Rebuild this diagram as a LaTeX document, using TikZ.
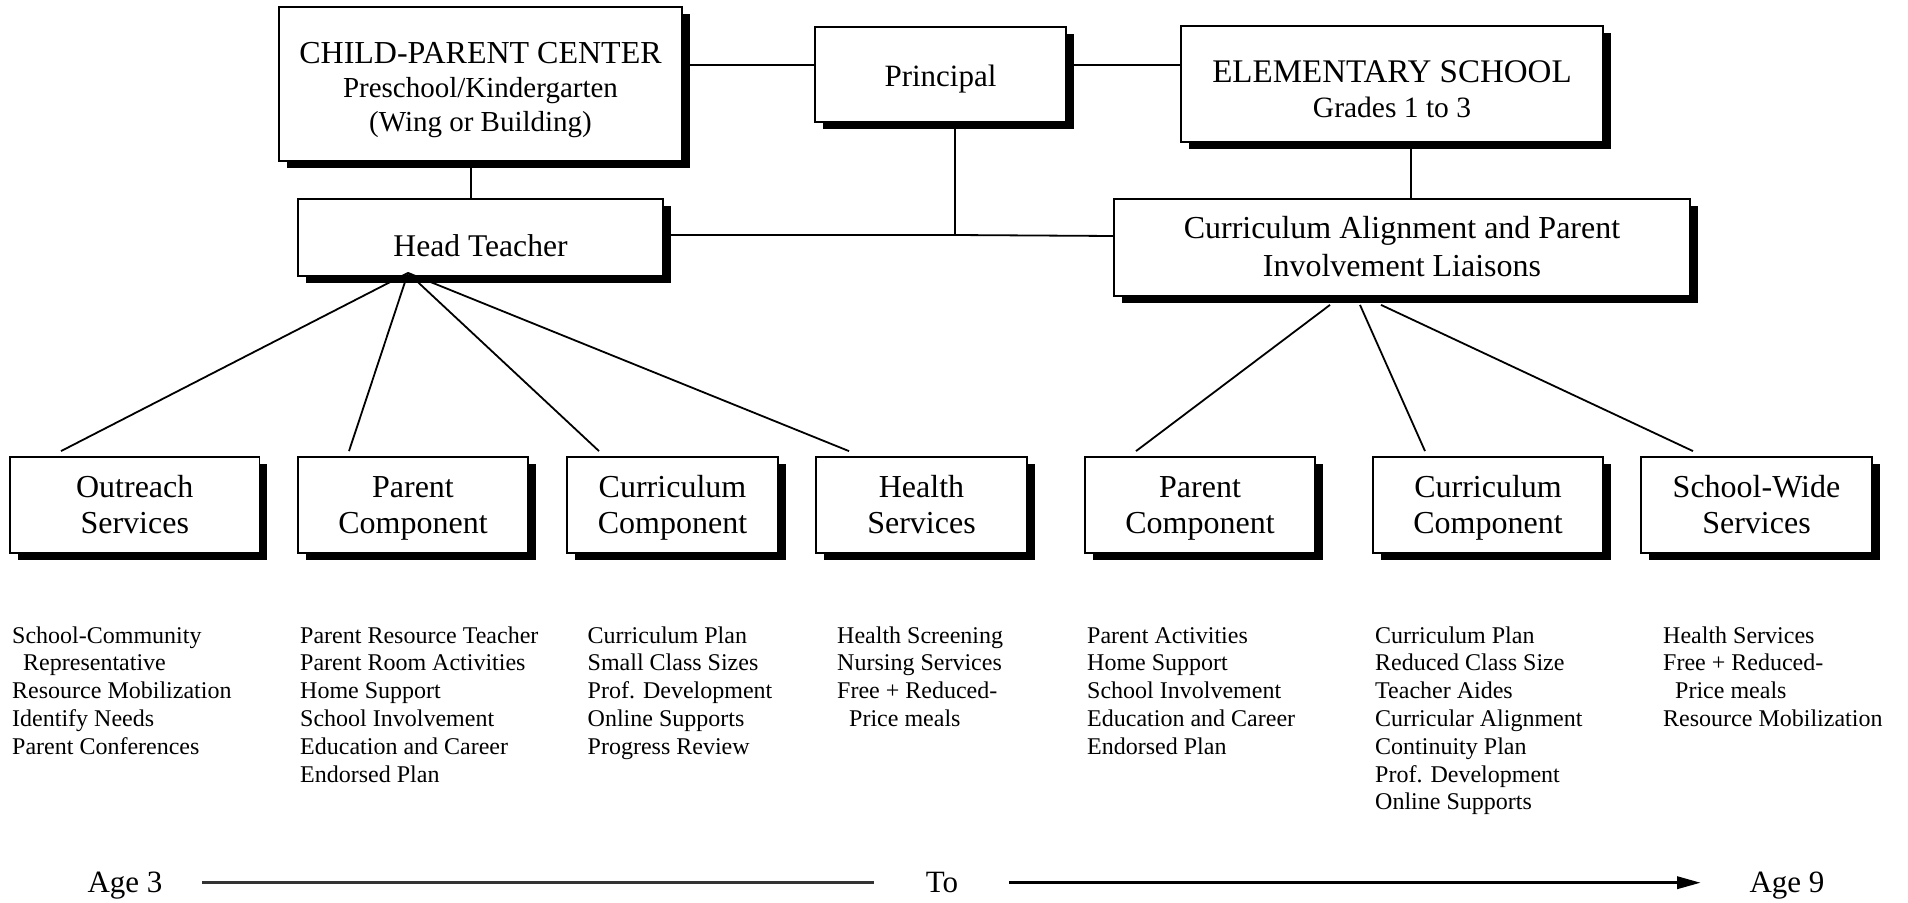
\documentclass[tikz,border=0pt]{standalone}
\usepackage{fontspec}
\setmainfont{Liberation Serif}
\usetikzlibrary{shadows,arrows.meta}
\newcommand{\fs}[2]{\fontsize{#1}{#2}\selectfont}
\newcommand{\bxt}[4]{\raisebox{#1}{\fs{#2}{#3}\begin{tabular}[t]{@{}c@{}}#4\end{tabular}}}
\tikzset{
  box/.style={draw=black, line width=1.8pt, fill=white, inner sep=0pt,
    text height=0pt, text depth=0pt,
    drop shadow={shadow xshift=7.5pt, shadow yshift=-7pt, fill=black, opacity=1}},
  bot/.style={box, minimum height=96pt},
  conn/.style={line width=1.8pt, black},
  lst/.style={anchor=base west, inner sep=0pt, font=\fs{24}{27.8}},
  age/.style={anchor=base, inner sep=0pt, font=\fs{31}{36}}
}
\begin{document}
\begin{tikzpicture}[x=1pt,y=-1pt]
\fill[white] (0,0) rectangle (1908,902);
\useasboundingbox (0,0) rectangle (1908,902);

% top boxes
\node[box, minimum width=403pt, minimum height=154pt] (cpc) at (480.5,84)
  {\bxt{20.7pt}{29}{34}{\fs{32}{34}CHILD-PARENT CENTER\\Preschool/Kindergarten\\(Wing or Building)}};
\node[box, minimum width=251pt, minimum height=95pt] (prin) at (940.5,74.5)
  {\bxt{-11.5pt}{31}{36}{Principal}};
\node[box, minimum width=422pt, minimum height=116pt] (es) at (1392,84)
  {\bxt{2pt}{29.5}{35}{\fs{33}{35}ELEMENTARY SCHOOL\\Grades 1 to 3}};
\node[box, minimum width=365pt, minimum height=77pt] (ht) at (480.5,237.5)
  {\bxt{-18.5pt}{31.6}{36}{Head Teacher}};
\node[box, minimum width=576pt, minimum height=97pt] (ca) at (1402,247.5)
  {\bxt{9.5pt}{32}{38.5}{Curriculum Alignment and Parent\\Involvement Liaisons}};

% bottom boxes
\node[bot, minimum width=249.5pt] (out) at (134.75,505) {\bxt{8pt}{32}{36}{Outreach\\Services}};
\node[bot, minimum width=230pt] (pc1) at (413,505) {\bxt{8pt}{32}{36}{Parent\\Component}};
\node[bot, minimum width=211pt] (cc1) at (672.5,505) {\bxt{8pt}{32}{36}{Curriculum\\Component}};
\node[bot, minimum width=211pt] (hs) at (921.5,505) {\bxt{8pt}{32}{36}{Health\\Services}};
\node[bot, minimum width=230pt] (pc2) at (1200,505) {\bxt{8pt}{32}{36}{Parent\\Component}};
\node[bot, minimum width=230pt] (cc2) at (1488,505) {\bxt{8pt}{32}{36}{Curriculum\\Component}};
\node[bot, minimum width=231pt] (sw) at (1756.5,505) {\bxt{8pt}{32}{36}{School-Wide\\Services}};

% connectors top
\draw[conn] ([yshift=19pt]cpc.east) -- ([yshift=9.5pt]prin.west);
\draw[conn] ([yshift=9.5pt]prin.east) -- ([yshift=19pt]es.west);
\draw[conn] ([xshift=-9.5pt]cpc.south) -- ([xshift=-9.5pt]ht.north);
\coordinate (j) at (955,235);
\draw[conn] ([xshift=14.5pt]prin.south) -- (j);
\draw[conn] ([yshift=2.5pt]ht.east) -- (j) -- ([yshift=11.5pt]ca.west);
\draw[conn] ([xshift=19pt]es.south) -- ([xshift=9pt]ca.north);

% fan from head teacher
\coordinate (hf) at ([xshift=-72.5pt,yshift=4pt]ht.south);
\draw[conn] (hf) -- ([xshift=-73.75pt,yshift=5pt]out.north);
\draw[conn] (hf) -- ([xshift=-64pt,yshift=5pt]pc1.north);
\draw[conn] (hf) -- ([xshift=-73.5pt,yshift=5pt]cc1.north);
\draw[conn] (hf) -- ([xshift=-72.5pt,yshift=5pt]hs.north);

% fan from liaisons
\draw[conn] ([xshift=-72pt,yshift=-8pt]ca.south) -- ([xshift=-64pt,yshift=5pt]pc2.north);
\draw[conn] ([xshift=-42pt,yshift=-8pt]ca.south) -- ([xshift=-63pt,yshift=5pt]cc2.north);
\draw[conn] ([xshift=-21pt,yshift=-8pt]ca.south) -- ([xshift=-63.5pt,yshift=5pt]sw.north);

% lists
\node[lst] (l1) at (12,643) {\begin{tabular}[t]{@{}l@{}}School-Community\\\hspace*{11pt}Representative\\Resource Mobilization\\Identify Needs\\Parent Conferences\end{tabular}};
\node[lst] (l2) at (300,643) {\begin{tabular}[t]{@{}l@{}}Parent Resource Teacher\\Parent Room Activities\\Home Support\\School Involvement\\Education and Career\\Endorsed Plan\end{tabular}};
\node[lst] (l3) at (587.5,643) {\begin{tabular}[t]{@{}l@{}}Curriculum Plan\\Small Class Sizes\\Prof. Development\\Online Supports\\Progress Review\end{tabular}};
\node[lst] (l4) at (837,643) {\begin{tabular}[t]{@{}l@{}}Health Screening\\Nursing Services\\Free + Reduced-\\\hspace*{12pt}Price meals\end{tabular}};
\node[lst] (l5) at (1087,643) {\begin{tabular}[t]{@{}l@{}}Parent Activities\\Home Support\\School Involvement\\Education and Career\\Endorsed Plan\end{tabular}};
\node[lst] (l6) at (1375,643) {\begin{tabular}[t]{@{}l@{}}Curriculum Plan\\Reduced Class Size\\Teacher Aides\\Curricular Alignment\\Continuity Plan\\Prof. Development\\Online Supports\end{tabular}};
\node[lst] (l7) at (1663,643) {\begin{tabular}[t]{@{}l@{}}Health Services\\Free + Reduced-\\\hspace*{12pt}Price meals\\Resource Mobilization\end{tabular}};

% age timeline
\node[age] (a3) at (125,892) {Age 3};
\node[age] (to) at (942,892) {To};
\node[age] (a9) at (1787,892) {Age 9};
\coordinate (r1s) at (202,882.7);
\coordinate (r1e) at (874,882.7);
\coordinate (r2s) at (1009,882.7);
\coordinate (r2e) at (1701,882.7);
\draw[line width=2.5pt, black!80] (r1s) -- (r1e);
\draw[line width=3.5pt, -{Triangle[length=24pt,width=12pt]}] (r2s) -- (r2e);
\end{tikzpicture}
\end{document}
